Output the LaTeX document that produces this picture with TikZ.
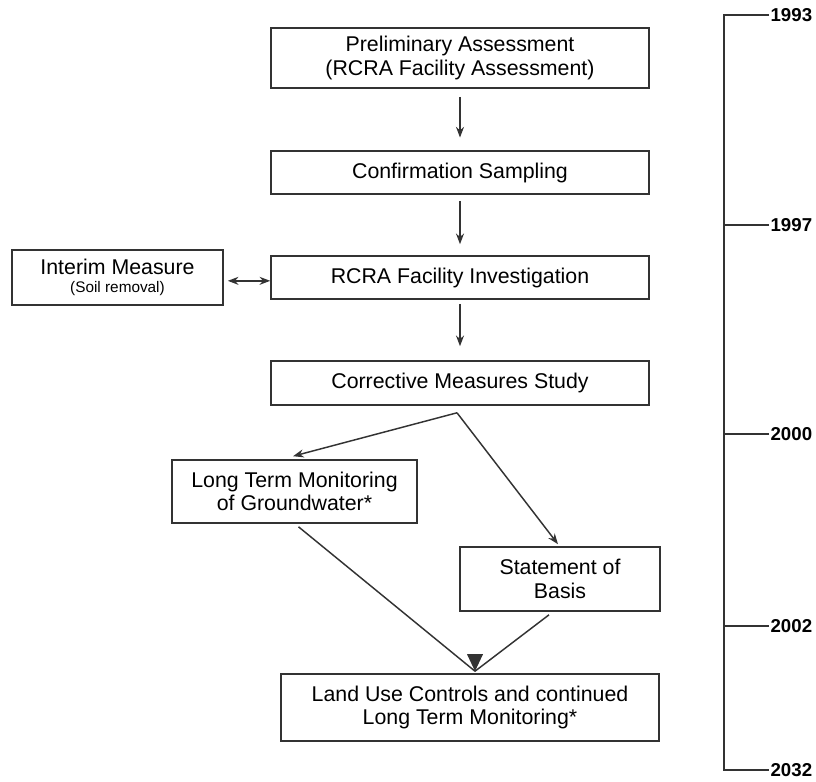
\documentclass[tikz,border=0pt]{standalone}
\usepackage{fontspec}
\setmainfont{Liberation Sans}
\usetikzlibrary{arrows.meta}

\begin{document}
\begin{tikzpicture}[x=0.75pt,y=-0.75pt,
  box/.style={draw=black!80,line width=1.2pt,align=center,inner sep=0pt,
    font=\fontsize{16}{17.5}\selectfont},
  year/.style={anchor=west,inner sep=1pt,font=\fontsize{14}{15}\selectfont\bfseries},
  link/.style={draw=black!80,line width=1.1pt},
  arr/.style={link,-{Stealth[length=8pt,width=6pt]}}]
\useasboundingbox (0,0) rectangle (816,781);

% flow chart
\node[box,minimum width=283.5pt,minimum height=45pt] (pa) at (460,58)
  {Preliminary Assessment\\(RCRA Facility Assessment)};
\node[box,minimum width=283.5pt,minimum height=32.25pt] (cs) at (460,172.5)
  {Confirmation Sampling};
\node[box,minimum width=283.5pt,minimum height=32.25pt] (rfi) at (460,277.5)
  {RCRA Facility Investigation};
\node[box,minimum width=158.25pt,minimum height=41.25pt] (im) at (117.5,277.5)
  {Interim Measure\\[-4.5pt]{\fontsize{11.5}{13}\selectfont (Soil removal)}};
\node[box,minimum width=283.5pt,minimum height=33pt] (cms) at (460,383)
  {Corrective Measures Study};
\node[box,minimum width=183.75pt,minimum height=47.25pt] (ltm) at (294.5,491.5)
  {Long Term Monitoring\\of Groundwater*};
\node[box,minimum width=150pt,minimum height=48pt] (sob) at (560,579)
  {Statement of\\Basis};
\node[box,minimum width=283.5pt,minimum height=50.25pt] (luc) at (470,707.5)
  {Land Use Controls and continued\\Long Term Monitoring*};

\draw[arr,shorten <=6pt,shorten >=9.5pt] (pa) -- (cs);
\draw[arr,shorten <=4.5pt,shorten >=8.25pt] (cs) -- (rfi);
\draw[arr,shorten <=3pt,shorten >=10.5pt] (rfi) -- (cms);
\draw[link,{Stealth[length=8pt,width=6pt]}-{Stealth[length=8pt,width=6pt]},shorten <=3pt]
  ([yshift=-2.5pt]im.east) -- ([yshift=-2.5pt]rfi.west);

\coordinate (split) at ([shift={(-3,7)}]cms.south);
\draw[arr] (split) -- ([shift={(-1.5,-3)}]ltm.north);
\draw[arr] (split) -- ([shift={(-2,-2)}]sob.north);

\coordinate (merge) at ([shift={(5,-2)}]luc.north);
\draw[link] ([shift={(4,3)}]ltm.south) -- (merge);
\draw[link] ([shift={(-11,3)}]sob.south) -- (merge);
\fill[black!80] (merge) -- ++(-8,-17) -- ++(16,0) -- cycle;

% time line
\coordinate (top) at (724,15);
\coordinate (bot) at (724,770);
\node[year] (y93) at (769,15) {1993};
\node[year] (y97) at (769,225) {1997};
\node[year] (y00) at (769,434) {2000};
\node[year] (y02) at (769,626) {2002};
\node[year] (y32) at (769,770) {2032};
\draw[link] (y93.west) -- (top) -- (bot) -- (y32.west);
\draw[link] (y97.west) -- (y97.west -| top);
\draw[link] (y00.west) -- (y00.west -| top);
\draw[link] (y02.west) -- (y02.west -| top);
\end{tikzpicture}
\end{document}
